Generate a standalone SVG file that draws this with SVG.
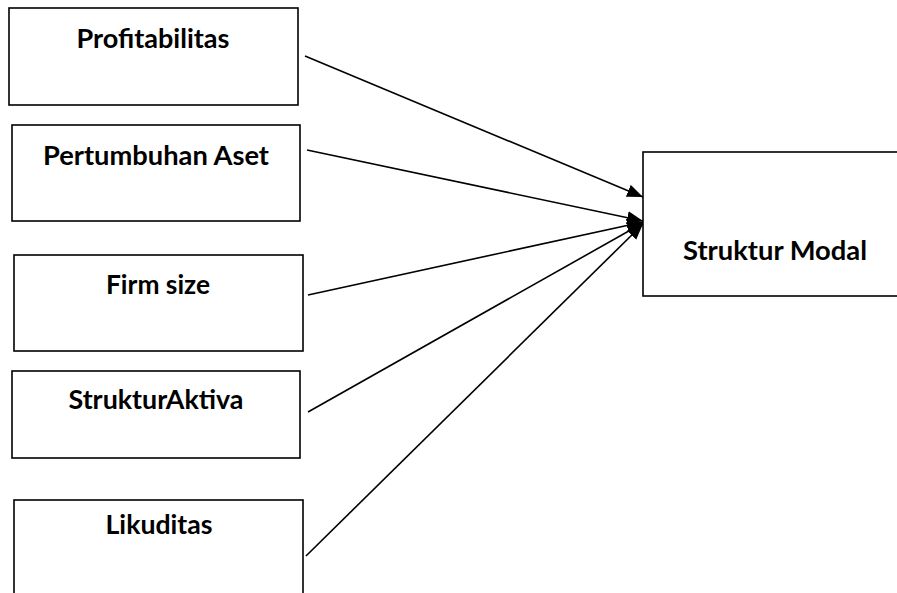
<svg xmlns="http://www.w3.org/2000/svg" width="897" height="593" viewBox="0 0 897 593">
<style>
.box{fill:#fff;stroke:#000;stroke-width:1.6}
.lbl{font-family:Lato,"Open Sans","Liberation Sans",sans-serif;font-weight:bold;font-size:26px;fill:#000;text-anchor:middle}
.conn{stroke:#000;stroke-width:1.6;fill:none;marker-end:url(#ah)}
</style>
<defs>
<marker id="ah" viewBox="0 0 16 13" refX="16" refY="6.5" markerWidth="16" markerHeight="13" markerUnits="userSpaceOnUse" orient="auto">
<path d="M0,0 L16,6.5 L0,13 Z" fill="#000"/>
</marker>
</defs>
<rect width="897" height="593" fill="#fff"/>
<g id="connectors">
<line class="conn" x1="305" y1="56" x2="643" y2="197"/>
<line class="conn" x1="307" y1="150" x2="643" y2="221"/>
<line class="conn" x1="308" y1="295" x2="643" y2="222"/>
<line class="conn" x1="308" y1="412" x2="643" y2="223"/>
<line class="conn" x1="306" y1="556" x2="643" y2="224"/>
</g>
<g id="profitabilitas">
<rect class="box" x="9" y="8" width="289" height="97"/>
<text class="lbl" x="153" y="48" textLength="153" lengthAdjust="spacingAndGlyphs">Profitabilitas</text>
</g>
<g id="pertumbuhan-aset">
<rect class="box" x="12" y="125" width="288" height="96"/>
<text class="lbl" x="156" y="165" textLength="226" lengthAdjust="spacingAndGlyphs">Pertumbuhan Aset</text>
</g>
<g id="firm-size">
<rect class="box" x="14" y="255" width="289" height="96"/>
<text class="lbl" x="158" y="294" textLength="104" lengthAdjust="spacingAndGlyphs">Firm size</text>
</g>
<g id="struktur-aktiva">
<rect class="box" x="12" y="371" width="288" height="87"/>
<text class="lbl" x="156" y="409" textLength="175" lengthAdjust="spacingAndGlyphs">StrukturAktiva</text>
</g>
<g id="likuditas">
<rect class="box" x="14" y="500" width="289" height="100"/>
<text class="lbl" x="159" y="534" textLength="107" lengthAdjust="spacingAndGlyphs">Likuditas</text>
</g>
<g id="struktur-modal">
<rect class="box" x="643" y="152" width="260" height="144"/>
<text class="lbl" x="775" y="260" textLength="184" lengthAdjust="spacingAndGlyphs">Struktur Modal</text>
</g>
</svg>
